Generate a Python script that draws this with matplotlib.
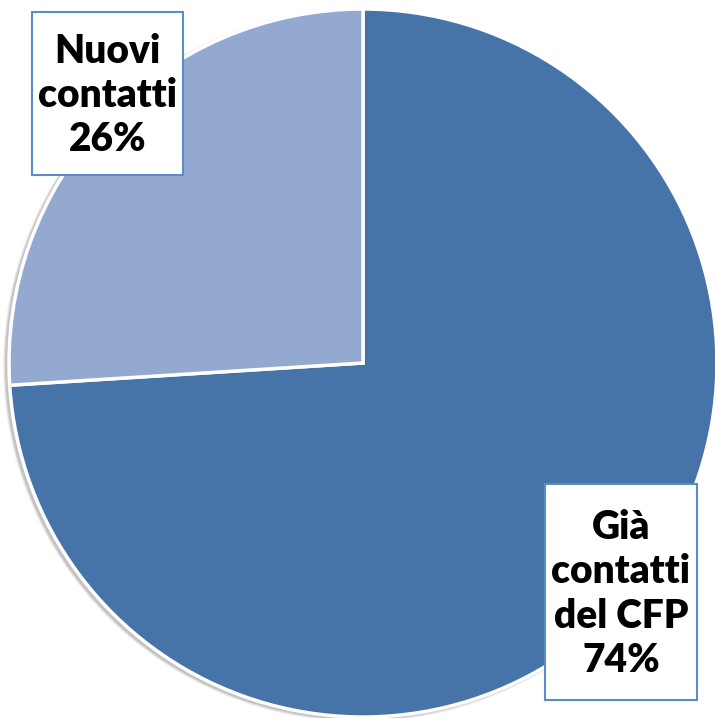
import matplotlib.pyplot as plt
from matplotlib.patches import Circle, Rectangle

labels = ["Già\ncontatti\ndel CFP", "Nuovi\ncontatti"]
values = [74, 26]
colors = ["#4674A8", "#94A9D0"]
# label boxes in pixel layout: (left, top, right, bottom)
label_boxes = [(545, 484, 697, 700), (32, 12, 183, 175)]

fig = plt.figure(figsize=(7.15, 7.18), dpi=100)
ax = fig.add_axes([0, 0, 1, 1])

H = 718
cx, cy, r = 363, H - 363, 354

# soft shadow around the pie
for i, a in enumerate([0.05, 0.08, 0.12]):
    ax.add_patch(Circle((cx - 3, cy - 2), r + 3 - i, color="black", alpha=a, lw=0, zorder=0))

ax.pie(values, colors=colors, startangle=90, counterclock=False,
       center=(cx, cy), radius=r, frame=True,
       wedgeprops=dict(edgecolor="white", linewidth=2.5))
ax.set_xlim(0, 715)
ax.set_ylim(0, H)
ax.set_aspect("equal")
ax.axis("off")

for lab, v, (x0, y0, x1, y1) in zip(labels, values, label_boxes):
    ax.add_patch(Rectangle((x0, H - y1), x1 - x0, y1 - y0, facecolor="white",
                           edgecolor="#5B8CC8", linewidth=1.5, zorder=4))
    ax.text((x0 + x1) / 2, H - (y0 + y1) / 2 - 2, f"{lab}\n{v}%", ha="center", va="center",
            ma="center", fontsize=28, fontweight="heavy", family="Lato", color="black",
            linespacing=1.24, zorder=5)

fig.savefig("out.png", dpi=100)
